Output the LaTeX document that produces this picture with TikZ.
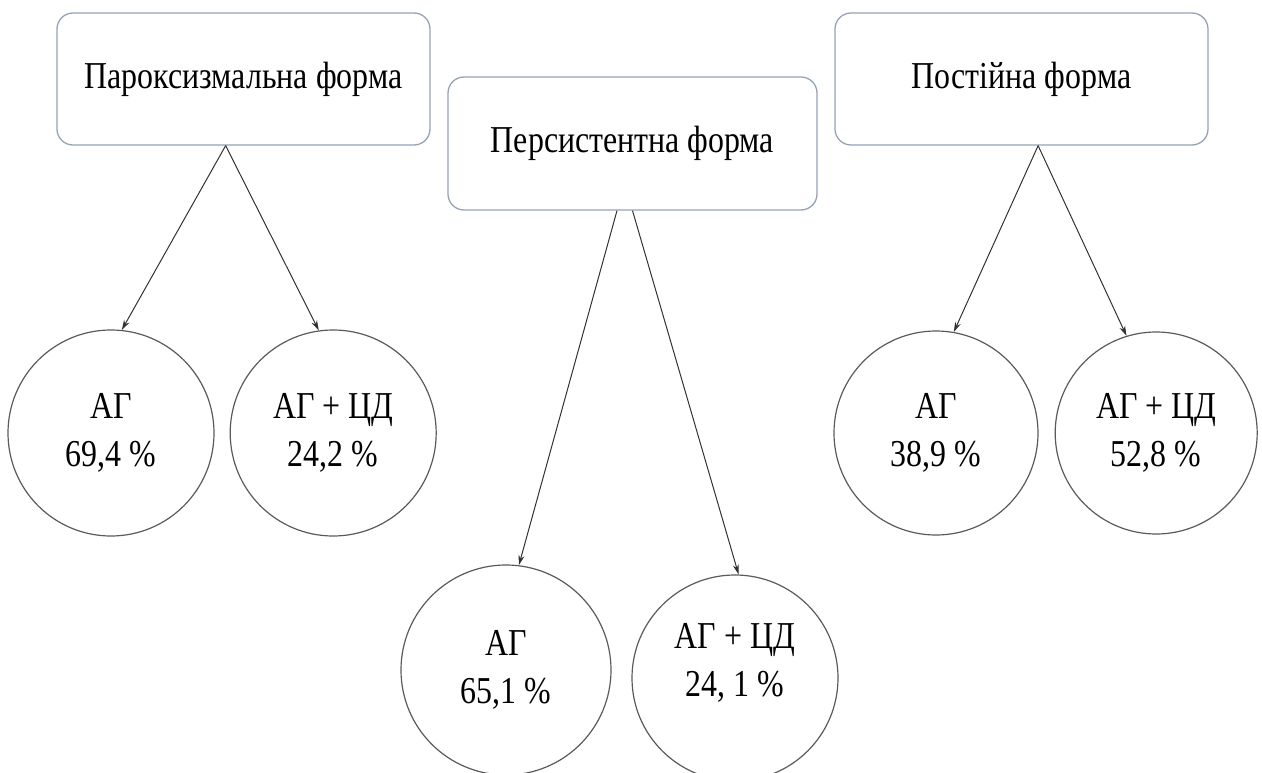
\documentclass[tikz,border=0pt]{standalone}
\usepackage{fontspec}
\setmainfont{Liberation Serif}[FakeStretch=0.84]
\usetikzlibrary{positioning, arrows.meta}
\definecolor{boxline}{RGB}{150,162,182}
\definecolor{circline}{RGB}{90,90,90}
\definecolor{arrline}{RGB}{50,50,50}

\begin{document}
\begin{tikzpicture}[x=1pt, y=-1pt,
    every node/.style={font=\fontsize{38}{48}\selectfont},
    formbox/.style={draw=boxline, line width=1.3pt, rectangle, rounded corners=16pt,
        minimum width=373pt, minimum height=132pt, inner sep=0pt},
    sharecircle/.style={draw=circline, line width=1.2pt, circle, minimum size=206pt,
        inner sep=0pt, align=center},
    link/.style={draw=arrline, line width=1pt, -{Stealth[length=10pt, width=6pt]}}]
                    \useasboundingbox (0,0) rectangle (1262,773);

                    \node[formbox] (1) at (243.5,79) {Пароксизмальна форма};
                    \node[formbox, minimum width=369pt, minimum height=133pt] (2) at (632.5,143.5) {Персистентна форма};
                    \node[formbox] (3) at (1021.5,79) {Постійна форма};

                    \node[sharecircle] (11) at (111,433) {АГ\\69,4 \%};
                    \node[sharecircle] (12) [right=15pt of 11] {АГ + ЦД\\24,2 \%};

                    \node[sharecircle, minimum size=210pt] (21) at (506,670) {АГ\\65,1 \%};
                    \node[sharecircle, text depth=36pt] (22) at (735,678) {АГ + ЦД\\24, 1 \%};

                    \node[sharecircle, minimum size=204pt] (31) at (936,433) {АГ\\38,9 \%};
                    \node[sharecircle, minimum size=202pt] (32) [right=16pt of 31] {АГ + ЦД\\52,8 \%};

                    \draw[link] (1.255) -- (11.84);
                    \draw[link] (1.255) -- (12.98);
                    \draw[link] (2.257) -- (21.83);
                    \draw[link] (2.south) -- (22.88);
                    \draw[link] (3.284) -- (31.80);
                    \draw[link] (3.284) -- (32.107);
                \end{tikzpicture}
\end{document}
